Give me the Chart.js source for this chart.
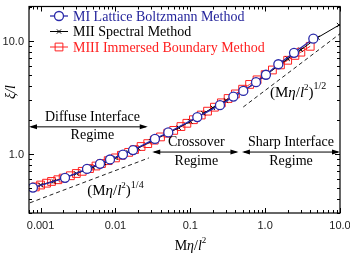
<!DOCTYPE html>
<html>
<head>
<meta charset="utf-8">
<script src="https://cdn.jsdelivr.net/npm/chart.js@4.4.1/dist/chart.umd.min.js"></script>
<style>
  html, body { margin: 0; padding: 0; background: #fff; }
  canvas { display: block; }
</style>
</head>
<body>
<canvas id="myChart" width="350" height="255"></canvas>
<script>
// values
const lbX = [0.00079, 0.00212, 0.00417, 0.00622, 0.00846, 0.0126, 0.0172, 0.0337, 0.0508,
    0.124, 0.249, 0.376, 0.511, 0.755, 1.025, 1.50, 2.43, 4.40];
const lbY = [0.503, 0.614, 0.735, 0.816, 0.891, 0.984, 1.079, 1.353, 1.543,
    2.11, 2.69, 3.20, 3.59, 4.29, 4.99, 6.18, 7.80, 10.4];

const spX = [0.001, 0.0015, 0.002, 0.003, 0.005, 0.007, 0.01, 0.015, 0.02, 0.03, 0.05, 0.07,
    0.1, 0.15, 0.2, 0.3, 0.5, 0.7, 1.0, 1.5, 2.0, 3.0, 5.0, 9.7];
const spY = [0.53, 0.57, 0.61, 0.67, 0.76, 0.83, 0.92, 1.03, 1.12, 1.29, 1.52, 1.70,
    1.93, 2.28, 2.55, 2.95, 3.55, 4.15, 4.9, 6.0, 6.9, 8.3, 10.6, 13.7];

const ibX = [0.00085, 0.001, 0.0012, 0.0014, 0.0017, 0.002, 0.0025, 0.003, 0.0036, 0.0045,
    0.0055, 0.0065, 0.008, 0.01, 0.012, 0.015, 0.018, 0.022, 0.027, 0.033, 0.04, 0.05,
    0.06, 0.075, 0.09, 0.11, 0.14, 0.17, 0.21, 0.26, 0.32, 0.4, 0.5, 0.62, 0.78, 1.0,
    1.25, 1.6, 2.0, 2.5, 3.0, 4.0];
const ibY = [0.51, 0.53, 0.55, 0.57, 0.59, 0.61, 0.64, 0.67, 0.70, 0.74,
    0.78, 0.82, 0.87, 0.92, 0.97, 1.03, 1.09, 1.16, 1.23, 1.32, 1.41, 1.52,
    1.61, 1.74, 1.86, 2.0, 2.2, 2.38, 2.58, 2.82, 3.08, 3.38, 3.72, 4.1, 4.5, 5.0,
    5.5, 6.1, 6.7, 7.4, 7.9, 8.9];

// guide lines (Mη/l²)^1/4 and (Mη/l²)^1/2
const quarterX = [0.00072, 0.028];
const quarterY = [0.369, 0.92];
const halfX = [0.51, 10];
const halfY = [2.59, 11.5];

const xMajor = [0.001, 0.01, 0.1, 1, 10];
const xMajorLabels = ['0.001', '0.01', '0.1', '1.0', '10.0'];
const yMajor = [1, 10];
const yMajorLabels = ['1.0', '10.0'];

const seriesNames = ['MI Lattice Boltzmann Method', 'MII Spectral Method', 'MIII Immersed Boundary Method'];

const blue = '#2a2aaa';
const red = '#ff2020';
const serif = "'Liberation Serif', 'Times New Roman', serif";
const sans = "'Liberation Sans', Arial, sans-serif";

function pts (xs, ys) {
    return xs.map((x, i) => ({ x: x, y: ys[i] }));
}

// draw text made of pieces (italic / superscript)
function drawRuns (ctx, runs, x, y, align) {
    let total = 0;
    runs.forEach((r) => {
        ctx.font = (r.it ? 'italic ' : '') + r.sz + 'px ' + serif;
        r.w = ctx.measureText(r.t).width;
        total += r.w;
    });
    let cx = align === 'center' ? x - total / 2 : x;
    ctx.textAlign = 'left';
    ctx.textBaseline = 'middle';
    runs.forEach((r) => {
        ctx.font = (r.it ? 'italic ' : '') + r.sz + 'px ' + serif;
        ctx.fillText(r.t, cx, y + (r.dy || 0));
        cx += r.w;
    });
}

function arrowHead (ctx, x, y, dir) {
    ctx.beginPath();
    ctx.moveTo(x, y);
    ctx.lineTo(x - dir * 8, y - 2.5);
    ctx.lineTo(x - dir * 8, y + 2.5);
    ctx.closePath();
    ctx.fill();
}

function doubleArrow (ctx, x1, x2, y) {
    ctx.beginPath();
    ctx.moveTo(x1 + 2, y);
    ctx.lineTo(x2 - 2, y);
    ctx.stroke();
    arrowHead(ctx, x1, y, -1);
    arrowHead(ctx, x2, y, 1);
}

const decor = {
    id: 'decor',
    afterDraw (chart) {
        const ctx = chart.ctx;
        const a = chart.chartArea;
        const xs = chart.scales.x;
        const ys = chart.scales.y;
        ctx.save();
        ctx.strokeStyle = '#000';
        ctx.fillStyle = '#000';

        // frame
        ctx.lineWidth = 1.2;
        ctx.strokeRect(a.left, a.top, a.right - a.left, a.bottom - a.top);

        // inner ticks on all sides
        ctx.lineWidth = 1;
        for (let e = -4; e <= 1; e++) {
            for (let m = 1; m <= 9; m++) {
                const v = m * Math.pow(10, e);
                const len = m === 1 ? 5 : 3;
                if (v >= xs.min && v <= xs.max) {
                    const px = Math.round(xs.getPixelForValue(v)) + 0.5;
                    ctx.beginPath();
                    ctx.moveTo(px, a.bottom); ctx.lineTo(px, a.bottom - len);
                    ctx.moveTo(px, a.top); ctx.lineTo(px, a.top + len);
                    ctx.stroke();
                }
                if (v >= ys.min && v <= ys.max) {
                    const py = Math.round(ys.getPixelForValue(v)) + 0.5;
                    ctx.beginPath();
                    ctx.moveTo(a.left, py); ctx.lineTo(a.left + len, py);
                    ctx.moveTo(a.right, py); ctx.lineTo(a.right - len, py);
                    ctx.stroke();
                }
            }
        }

        // tick labels
        ctx.font = '11px ' + sans;
        ctx.fillStyle = '#222';
        ctx.textAlign = 'center';
        ctx.textBaseline = 'middle';
        xMajor.forEach((v, i) => {
            ctx.fillText(xMajorLabels[i], xs.getPixelForValue(v), a.bottom + 13);
        });
        ctx.textAlign = 'right';
        yMajor.forEach((v, i) => {
            ctx.fillText(yMajorLabels[i], a.left - 5, ys.getPixelForValue(v) + 1);
        });

        // axis titles
        ctx.fillStyle = '#000';
        drawRuns(ctx, [
            { t: 'M', sz: 14 }, { t: 'η', sz: 14, it: true }, { t: '/', sz: 14 },
            { t: 'l', sz: 14, it: true }, { t: '2', sz: 9, dy: -5 }
        ], (a.left + a.right) / 2 + 6, 246, 'center');
        ctx.save();
        ctx.translate(11, 92);
        ctx.rotate(-Math.PI / 2);
        drawRuns(ctx, [{ t: 'ξ/l', sz: 14, it: true }], 0, 0, 'center');
        ctx.restore();

        // guide line labels
        const powLabel = (exp) => [
            { t: '(M', sz: 15 }, { t: 'η', sz: 15, it: true }, { t: '/', sz: 15 },
            { t: 'l', sz: 15, it: true }, { t: '2', sz: 9, dy: -5 }, { t: ')', sz: 15 },
            { t: exp, sz: 10, dy: -6 }
        ];
        drawRuns(ctx, powLabel('1/4'), xs.getPixelForValue(0.0042), ys.getPixelForValue(0.47), 'left');
        drawRuns(ctx, powLabel('1/2'), xs.getPixelForValue(1.16), ys.getPixelForValue(3.47), 'left');

        // regime arrows and texts
        const yDiff = ys.getPixelForValue(1.73);
        const yCross = ys.getPixelForValue(1.036);
        const xD1 = a.left, xD2 = xs.getPixelForValue(0.027);
        const xC1 = xs.getPixelForValue(0.031), xC2 = xs.getPixelForValue(0.44);
        const xS1 = xs.getPixelForValue(0.49), xS2 = a.right;
        ctx.lineWidth = 1;
        doubleArrow(ctx, xD1, xD2, yDiff);
        doubleArrow(ctx, xC1, xC2, yCross);
        doubleArrow(ctx, xS1, xS2, yCross);

        drawRuns(ctx, [{ t: 'Diffuse Interface', sz: 14 }], (xD1 + xD2) / 2 + 4, yDiff - 10, 'center');
        drawRuns(ctx, [{ t: 'Regime', sz: 14 }], (xD1 + xD2) / 2 + 4, yDiff + 8, 'center');
        drawRuns(ctx, [{ t: 'Crossover', sz: 14 }], (xC1 + xC2) / 2 + 1, yCross - 10, 'center');
        drawRuns(ctx, [{ t: 'Regime', sz: 14 }], (xC1 + xC2) / 2 + 1, yCross + 9, 'center');
        drawRuns(ctx, [{ t: 'Sharp Interface', sz: 14 }], (xS1 + xS2) / 2, yCross - 10, 'center');
        drawRuns(ctx, [{ t: 'Regime', sz: 14 }], (xS1 + xS2) / 2, yCross + 9, 'center');

        // legend
        const rows = [16, 31.5, 47];
        chart.data.datasets.slice(0, 3).forEach((ds, i) => {
            const y = rows[i];
            ctx.strokeStyle = ds.borderColor;
            ctx.lineWidth = ds.borderWidth;
            ctx.beginPath();
            ctx.moveTo(50, y); ctx.lineTo(68, y);
            ctx.stroke();
            ctx.fillStyle = ds.pointBackgroundColor;
            ctx.lineWidth = ds.pointBorderWidth;
            Chart.helpers.drawPoint(ctx, {
                pointStyle: ds.pointStyle,
                radius: ds.pointRadius,
                borderWidth: ds.pointBorderWidth,
                rotation: 0
            }, 59, y);
            ctx.fillStyle = i === 0 ? '#1f1f99' : ds.borderColor;
            drawRuns(ctx, [{ t: seriesNames[i], sz: 14 }], 73, y + 1, 'left');
        });

        ctx.restore();
    }
};

const ctx = document.getElementById('myChart');
const config = {
    type: 'line',
    data: {
        datasets: [
            {
                label: seriesNames[0],
                data: pts(lbX, lbY),
                borderColor: blue,
                borderWidth: 1.3,
                pointStyle: 'circle',
                pointRadius: 4.5,
                pointBorderWidth: 1.3,
                pointBackgroundColor: '#fff'
            },
            {
                label: seriesNames[1],
                data: pts(spX, spY),
                borderColor: '#000',
                borderWidth: 1,
                pointStyle: 'crossRot',
                pointRadius: 3,
                pointBorderWidth: 1,
                pointBackgroundColor: 'rgba(0,0,0,0)'
            },
            {
                label: seriesNames[2],
                data: pts(ibX, ibY),
                borderColor: red,
                borderWidth: 1,
                pointStyle: 'rect',
                pointRadius: 5.5,
                pointBorderWidth: 1,
                pointBackgroundColor: 'rgba(0,0,0,0)'
            },
            {
                label: 'quarter',
                data: pts(quarterX, quarterY),
                borderColor: '#222',
                borderWidth: 1,
                borderDash: [4, 3],
                pointRadius: 0
            },
            {
                label: 'half',
                data: pts(halfX, halfY),
                borderColor: '#222',
                borderWidth: 1,
                borderDash: [4, 3],
                pointRadius: 0
            }
        ]
    },
    options: {
        responsive: false,
        animation: false,
        devicePixelRatio: 1,
        layout: { padding: { left: 29, right: 10, top: 2, bottom: 42 } },
        scales: {
            x: { type: 'logarithmic', min: 0.0007, max: 10, display: false },
            y: { type: 'logarithmic', min: 0.3, max: 20, display: false }
        },
        plugins: {
            legend: { display: false },
            tooltip: { enabled: false }
        }
    },
    plugins: [decor]
};

new Chart(ctx, config);
</script>
</body>
</html>
